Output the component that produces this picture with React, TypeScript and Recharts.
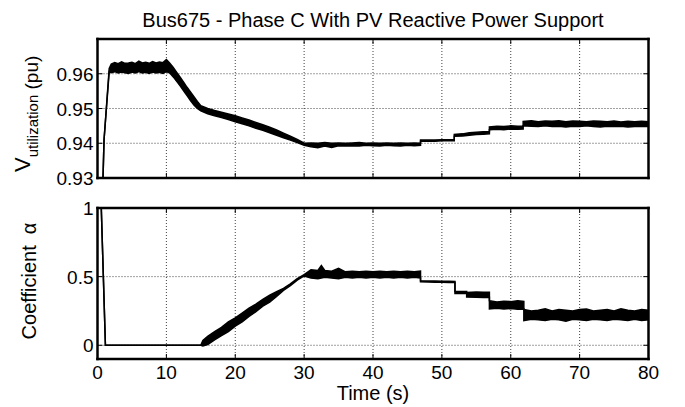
import React from "react";
import { ComposedChart, Area, XAxis, YAxis, CartesianGrid } from "recharts";

const FONT = "'Liberation Sans', Arial, Helvetica, sans-serif";

// top panel: bus voltage (pu). the trace is noisy, so keep its min / max envelope
const vTime = [
    0.8, 0.95, 1.7,
    2, 2.5, 3, 3.5, 4, 4.5, 5, 5.5, 6, 6.5, 7, 7.5, 8, 8.5, 9, 9.5, 10,
    10.5, 11, 11.5, 12, 12.5, 13, 13.5, 14, 14.5,
    15, 16, 17, 18, 19, 20, 21, 22, 23, 24, 25, 26, 27, 28, 29, 30,
    31, 32, 33, 34, 35, 36, 37, 38, 39, 40, 41, 42, 43, 44, 45, 46, 46.9,
    46.9, 48, 49, 50, 51, 51.8,
    51.8, 53, 54, 55, 56, 56.9,
    56.9, 58, 59, 60, 61, 61.8,
    61.8, 63, 64, 65, 66, 67, 68, 69, 70, 71, 72, 73, 74, 75, 76, 77, 78, 79, 80,
];
const vLow = [
    0.93, 0.941, 0.9606,
    0.9603, 0.9606, 0.9602, 0.9605, 0.9603, 0.9601, 0.9605, 0.9602, 0.9606, 0.9602, 0.9604, 0.9601, 0.9605, 0.9602, 0.9604, 0.9601, 0.9606,
    0.9602, 0.9591, 0.9578, 0.9565, 0.9551, 0.9537, 0.9523, 0.951, 0.95,
    0.9493, 0.9485, 0.9479, 0.9474, 0.9468, 0.9462, 0.9456, 0.945, 0.9443, 0.9437, 0.943, 0.9423, 0.9416, 0.9409, 0.9402, 0.9394,
    0.939, 0.9387, 0.9392, 0.9388, 0.9393, 0.9392, 0.9393, 0.9392, 0.9394, 0.9393, 0.9392, 0.9394, 0.9393, 0.9392, 0.9394, 0.9393, 0.9394,
    0.9406, 0.9406, 0.9406, 0.9407, 0.9407, 0.9407,
    0.942, 0.9421, 0.9423, 0.9425, 0.9426, 0.9427,
    0.9439, 0.944, 0.9439, 0.9441, 0.944, 0.9441,
    0.945, 0.9449, 0.9448, 0.945, 0.9448, 0.9449, 0.9447, 0.9449, 0.9448, 0.945, 0.9448, 0.9447, 0.9449, 0.9448, 0.9449, 0.9447, 0.9448, 0.9449, 0.9448,
];
const vHigh = [
    0.93, 0.941, 0.9615,
    0.9628, 0.9632, 0.9629, 0.9634, 0.963, 0.9631, 0.9633, 0.9629, 0.9636, 0.9631, 0.9633, 0.963, 0.9635, 0.9631, 0.9634, 0.9632, 0.9641,
    0.963, 0.9618, 0.9604, 0.959, 0.9576, 0.9561, 0.9548, 0.9534, 0.952,
    0.9508, 0.95, 0.9494, 0.9489, 0.9484, 0.9479, 0.9473, 0.9467, 0.946, 0.9453, 0.9446, 0.9438, 0.9429, 0.942, 0.9411, 0.94,
    0.9401, 0.94, 0.9402, 0.94, 0.9401, 0.94, 0.9401, 0.9402, 0.94, 0.9401, 0.94, 0.9401, 0.94, 0.9401, 0.94, 0.9401, 0.94,
    0.9409, 0.9409, 0.9409, 0.941, 0.941, 0.941,
    0.9425, 0.9427, 0.943, 0.9432, 0.9433, 0.9434,
    0.9447, 0.9449, 0.9448, 0.945, 0.9449, 0.945,
    0.9463, 0.9465, 0.9462, 0.9464, 0.9463, 0.9465, 0.9462, 0.9464, 0.9463, 0.9462, 0.9464, 0.9463, 0.9462, 0.9464, 0.9461, 0.9463, 0.9462, 0.9463, 0.9462,
];

// bottom panel: coefficient alpha, same envelope idea
const aTime = [
    0, 0.55, 1.15, 15, 15.3,
    16, 17, 18, 19, 20, 21, 22, 23, 24, 25, 26, 27, 28, 29, 30,
    31, 32, 32.5, 33, 34, 35, 36, 37, 38, 39, 40, 41, 42, 43, 44, 45, 46, 46.9,
    46.9, 48, 49, 50, 51, 51.9,
    51.9, 53, 53.6, 53.6, 55, 56, 56.9,
    56.9, 58, 59, 60, 61, 61.9,
    61.9, 63, 64, 65, 66, 67, 68, 69, 70, 71, 72, 73, 74, 75, 76, 77, 78, 79, 80,
];
const aLow = [
    1, 1, 0, 0, -0.005,
    0.005, 0.04, 0.07, 0.1, 0.14, 0.17, 0.21, 0.245, 0.285, 0.315, 0.355, 0.4, 0.435, 0.475, 0.505,
    0.49, 0.485, 0.49, 0.495, 0.49, 0.485, 0.495, 0.49, 0.495, 0.49, 0.495, 0.49, 0.495, 0.49, 0.495, 0.49, 0.495, 0.49,
    0.462, 0.461, 0.46, 0.459, 0.458, 0.457,
    0.378, 0.378, 0.378, 0.352, 0.35, 0.348, 0.35,
    0.265, 0.27, 0.265, 0.268, 0.262, 0.265,
    0.18, 0.19, 0.185, 0.18, 0.19, 0.185, 0.175, 0.19, 0.185, 0.18, 0.19, 0.185, 0.18, 0.19, 0.185, 0.18, 0.19, 0.18, 0.185,
];
const aHigh = [
    1, 1, 0, 0, 0.035,
    0.065, 0.1, 0.13, 0.17, 0.2, 0.235, 0.27, 0.3, 0.335, 0.365, 0.39, 0.415, 0.448, 0.485, 0.515,
    0.55, 0.545, 0.58, 0.545, 0.54, 0.56, 0.535, 0.54, 0.535, 0.54, 0.535, 0.54, 0.535, 0.54, 0.535, 0.54, 0.535, 0.54,
    0.47, 0.469, 0.468, 0.467, 0.466, 0.465,
    0.392, 0.392, 0.392, 0.385, 0.388, 0.386, 0.387,
    0.325, 0.315, 0.32, 0.318, 0.325, 0.32,
    0.26, 0.25, 0.255, 0.265, 0.25, 0.26, 0.255, 0.25, 0.26, 0.265, 0.25, 0.255, 0.26, 0.25, 0.265, 0.255, 0.25, 0.26, 0.255,
];

const xTicks = [0, 10, 20, 30, 40, 50, 60, 70, 80];
const vTicks = [0.93, 0.94, 0.95, 0.96];
const aTicks = [0, 0.5, 1];

const vData = vTime.map((t, i) => ({ t, band: [vLow[i], vHigh[i]] }));
const aData = aTime.map((t, i) => ({ t, band: [aLow[i], aHigh[i]] }));

const frame = { stroke: "#000", strokeWidth: 2.5, strokeLinecap: "square" as const };

// matlab style ticks: short marks pointing into the box
const bottomTick = (withLabel: boolean) => (p: any) => (
    <g>
        <line x1={p.x} y1={p.y} x2={p.x} y2={p.y - 5} stroke="#000" />
        {withLabel && (
            <text x={p.x} y={p.y + 20} textAnchor="middle" fontSize={19} fontFamily={FONT} fill="#000">
                {p.payload.value}
            </text>
        )}
    </g>
);
const topTick = (p: any) => <line x1={p.x} y1={p.y} x2={p.x} y2={p.y + 5} stroke="#000" />;
const leftTick = (p: any) => (
    <g>
        <line x1={p.x} y1={p.y} x2={p.x + 5} y2={p.y} stroke="#000" />
        <text x={p.x - 4} y={p.y + 7} textAnchor="end" fontSize={19} fontFamily={FONT} fill="#000">
            {p.payload.value}
        </text>
    </g>
);
const rightTick = (p: any) => <line x1={p.x} y1={p.y} x2={p.x - 5} y2={p.y} stroke="#000" />;

function Panel({ data, domain, ticks, height, top, xLabels }: any) {
    // the top / right axes only draw the box and its inner ticks (1px wide so they still render)
    return (
        <ComposedChart
            width={685}
            height={height}
            data={data}
            margin={{ top: top - 1, right: 35.5, bottom: 0, left: 37.5 }}
        >
            <CartesianGrid stroke="#000" strokeOpacity={0.75} strokeDasharray="1 2" />
            <XAxis
                dataKey="t"
                type="number"
                domain={[0, 80]}
                ticks={xTicks}
                allowDataOverflow
                height={xLabels ? 40 : 10}
                axisLine={frame}
                tickLine={false}
                tickSize={0}
                tickMargin={0}
                tick={bottomTick(xLabels)}
            />
            <XAxis
                xAxisId="top"
                orientation="top"
                dataKey="t"
                type="number"
                domain={[0, 80]}
                ticks={xTicks}
                allowDataOverflow
                height={1}
                axisLine={frame}
                tickLine={false}
                tickSize={0}
                tickMargin={0}
                tick={topTick}
            />
            <YAxis
                type="number"
                domain={domain}
                ticks={ticks}
                allowDataOverflow
                width={60}
                axisLine={frame}
                tickLine={false}
                tickSize={0}
                tickMargin={0}
                tick={leftTick}
            />
            <YAxis
                yAxisId="r"
                orientation="right"
                type="number"
                domain={domain}
                ticks={ticks}
                allowDataOverflow
                width={1}
                axisLine={frame}
                tickLine={false}
                tickSize={0}
                tickMargin={0}
                tick={rightTick}
            />
            <Area
                dataKey="band"
                type="linear"
                stroke="#000"
                strokeWidth={1.5}
                fill="#000"
                fillOpacity={1}
                dot={false}
                activeDot={false}
                isAnimationActive={false}
            />
        </ComposedChart>
    );
}

export default function App() {
    return (
        <div style={{ position: "absolute", left: 0, top: 0, width: 685, height: 407, background: "#fff" }}>
            <div style={{ position: "absolute", left: 0, top: 0 }}>
                <Panel data={vData} domain={[0.93, 0.97]} ticks={vTicks} height={188} top={39} xLabels={false} />
            </div>
            <div style={{ position: "absolute", left: 0, top: 190 }}>
                <Panel data={aData} domain={[-0.1, 1]} ticks={aTicks} height={209} top={18} xLabels={true} />
            </div>
            <svg
                width={685}
                height={407}
                style={{ position: "absolute", left: 0, top: 0, pointerEvents: "none" }}
                fontFamily={FONT}
                fill="#000"
            >
                <text x={373} y={27} textAnchor="middle" fontSize={20}>
                    Bus675 - Phase C With PV Reactive Power Support
                </text>
                <text transform="translate(30,172) rotate(-90)" fontSize={22}>
                    V
                    <tspan fontSize={15} dy={8}>utilization</tspan>
                    <tspan fontSize={19}>{"\u00a0(pu)"}</tspan>
                </text>
                <text transform="translate(36,281) rotate(-90)" textAnchor="middle" fontSize={20}>
                    {"Coefficient\u00a0\u00a0\u03b1"}
                </text>
                <text x={373} y={400} textAnchor="middle" fontSize={20}>
                    Time (s)
                </text>
            </svg>
        </div>
    );
}
